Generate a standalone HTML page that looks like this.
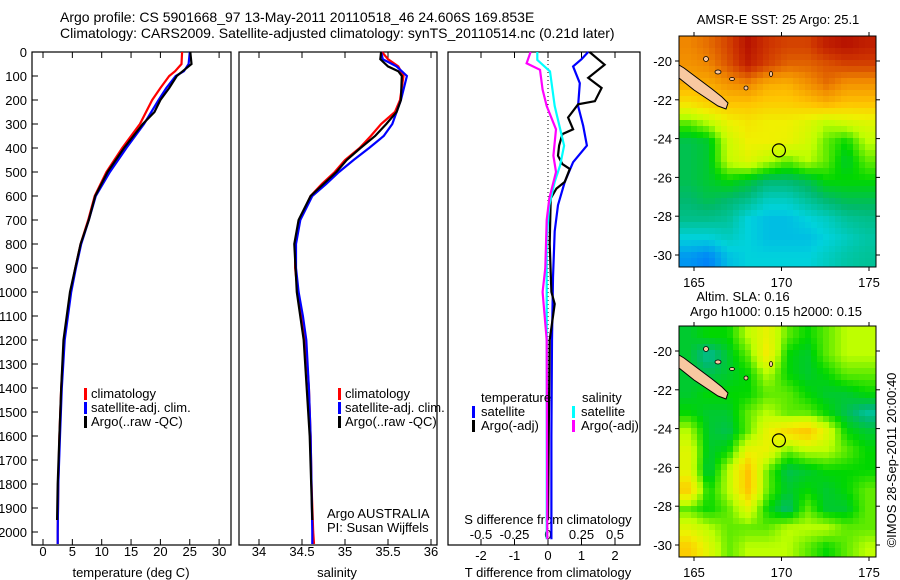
<!DOCTYPE html>
<html><head><meta charset="utf-8">
<style>
html,body{margin:0;padding:0;background:#fff;}
svg{display:block;font-family:"Liberation Sans",sans-serif;}
text{font-size:13px;fill:#000;}
</style></head>
<body>
<svg id="fig" width="900" height="580" viewBox="0 0 900 580" xmlns="http://www.w3.org/2000/svg">
<text x="60" y="22" style="font-size:14px">Argo profile: CS 5901668_97 13-May-2011 20110518_46 24.606S 169.853E</text>
<text x="60" y="38" style="font-size:14px">Climatology: CARS2009. Satellite-adjusted climatology: synTS_20110514.nc (0.21d later)</text>
</svg>
<script>
// ---------- data ----------
const tDepthClim=[0,50,80,100,150,200,300,400,500,600,700,800,900,1000,1200,1400,1600,1800,2000,2050];
const tempClim=[23.7,23.6,22.5,21.5,20.0,18.6,16.5,13.5,10.8,8.8,7.7,6.4,5.5,4.7,3.6,3.1,2.8,2.6,2.5,2.5];
const tempSat=[25.0,24.8,24.0,22.6,21.0,19.7,17.2,14.2,11.4,9.0,7.8,6.5,5.6,4.8,3.7,3.2,2.9,2.6,2.5,2.5];
const tDepthArgo=[0,50,80,100,150,200,250,300,400,500,600,700,800,1000,1200,1400,1600,1800,1950];
const tempArgo=[25.1,25.3,23.8,22.8,21.5,20.0,19.0,17.0,13.8,11.0,8.9,7.8,6.4,4.6,3.5,3.1,2.8,2.5,2.4];
const sDepthClim=[0,30,60,100,200,250,300,350,400,450,500,550,600,700,800,900,1000,1100,1200,1400,1600,1800,2000,2050];
const salClim=[35.43,35.5,35.62,35.68,35.64,35.58,35.42,35.3,35.17,35.0,34.88,34.73,34.6,34.47,34.42,34.42,34.45,34.5,34.54,34.58,34.6,34.61,34.63,34.64];
const salSat=[35.42,35.44,35.6,35.72,35.65,35.6,35.55,35.45,35.28,35.1,34.93,34.78,34.62,34.48,34.43,34.43,34.46,34.51,34.55,34.58,34.6,34.61,34.62,34.62];
const sDepthArgo=[0,30,60,80,100,200,250,300,350,400,450,500,600,700,800,1000,1200,1600,1950];
const salArgo=[35.42,35.41,35.5,35.62,35.66,35.65,35.6,35.48,35.35,35.18,35.02,34.9,34.6,34.46,34.41,34.44,34.52,34.59,34.62];
const dDepthTSat=[0,30,60,130,225,308,390,459,541,638,747,940,1200,1600,2030];
const tDiffSat=[1.2,1.0,0.75,0.95,0.9,1.05,1.16,0.75,0.5,0.3,0.2,0.15,0.12,0.1,0.1];
const dDepthTArgo=[0,53,108,150,205,218,273,322,342,390,432,467,487,541,569,610,800,1000,1050,1200,1600,1950];
const tDiffArgo=[1.24,1.69,1.2,1.6,1.4,0.9,0.6,0.75,0.43,0.33,0.3,0.43,0.65,0.5,0.25,0.08,0.05,0.1,0.2,0.05,0.02,0.0];
const dDepthSSat=[0,33,81,225,390,473,541,638,775,940,1400,2030];
const sDiffSat=[-0.08,-0.08,0.015,0.05,0.12,0.09,0.05,0.01,-0.01,-0.01,-0.01,-0.01];
const dDepthSArgo=[0,47,74,157,225,322,432,500,610,700,900,1000,1200,2030];
const sDiffArgo=[-0.13,-0.16,-0.06,-0.04,-0.01,0.06,0.04,0.06,0.01,-0.01,-0.02,-0.04,-0.01,-0.005];
const depthTicks=[0,100,200,300,400,500,600,700,800,900,1000,1100,1200,1300,1400,1500,1600,1700,1800,1900,2000];
const tempTicks=[0,5,10,15,20,25,30];
const salTicks=[34,34.5,35,35.5,36];
const salTickLabels=["34","34.5","35","35.5","36"];
const tdTicks=[-2,-1,0,1,2];
const sdTicks=[-0.5,-0.25,0,0.25,0.5];
const sdTickLabels=["-0.5","-0.25","0","0.25","0.5"];
const sstGrid=[
[0.82,0.85,0.9,0.97,0.92,0.9,0.9,0.95,0.97,0.95],
[0.8,0.82,0.88,0.95,0.9,0.86,0.86,0.88,0.9,0.9],
[0.76,0.76,0.8,0.82,0.76,0.75,0.8,0.85,0.8,0.8],
[0.66,0.7,0.72,0.72,0.7,0.7,0.72,0.75,0.72,0.72],
[0.5,0.55,0.62,0.65,0.63,0.63,0.6,0.55,0.58,0.6],
[0.4,0.42,0.57,0.63,0.63,0.62,0.58,0.5,0.45,0.55],
[0.4,0.42,0.56,0.6,0.55,0.5,0.55,0.5,0.42,0.5],
[0.4,0.42,0.45,0.42,0.38,0.38,0.4,0.45,0.45,0.45],
[0.38,0.4,0.38,0.36,0.32,0.32,0.35,0.38,0.4,0.4],
[0.36,0.36,0.35,0.3,0.28,0.28,0.3,0.32,0.35,0.36],
[0.3,0.3,0.32,0.3,0.28,0.28,0.28,0.3,0.32,0.34],
[0.24,0.22,0.28,0.3,0.3,0.3,0.3,0.32,0.34,0.35]];
const slaGrid=[
[0.42,0.45,0.45,0.55,0.62,0.5,0.45,0.5,0.55,0.55],
[0.42,0.35,0.42,0.5,0.65,0.45,0.42,0.5,0.55,0.55],
[0.42,0.4,0.42,0.45,0.55,0.45,0.42,0.45,0.5,0.5],
[0.42,0.45,0.45,0.45,0.5,0.5,0.45,0.42,0.42,0.45],
[0.45,0.42,0.42,0.5,0.55,0.5,0.5,0.45,0.4,0.35],
[0.55,0.42,0.4,0.5,0.62,0.68,0.72,0.6,0.45,0.42],
[0.6,0.42,0.45,0.62,0.62,0.5,0.55,0.55,0.5,0.45],
[0.6,0.4,0.55,0.72,0.5,0.4,0.42,0.45,0.45,0.45],
[0.7,0.45,0.55,0.72,0.5,0.42,0.45,0.42,0.45,0.5],
[0.5,0.45,0.5,0.6,0.45,0.38,0.5,0.42,0.42,0.5],
[0.6,0.55,0.5,0.5,0.5,0.55,0.55,0.55,0.5,0.5],
[0.7,0.6,0.5,0.55,0.55,0.55,0.5,0.45,0.5,0.55]];
const lonTicks=[165,170,175];
const latTicks=[-20,-22,-24,-26,-28,-30];
const argoPos=[169.853,-24.606];

// ---------- helpers ----------
const NS="http://www.w3.org/2000/svg";
const svg=document.getElementById('fig');
function el(tag,attrs,parent){const e=document.createElementNS(NS,tag);for(const k in attrs)e.setAttribute(k,attrs[k]);(parent||svg).appendChild(e);return e;}
function txt(x,y,s,anchor,size){const t=el('text',{x:x,y:y,'text-anchor':anchor||'start'});if(size)t.style.fontSize=size+'px';t.textContent=s;return t;}
const Y0=52,YB=545;
const yD=d=>Y0+d*0.24;
const xT=v=>43+v*5.87;
const xS=v=>259+(v-34)*86;
const xTD=v=>548+v*33.5;
const xSD=v=>548+v*134;
function step(xs,ds,xf,col,name){
  let p='';for(let i=0;i<xs.length;i++){p+=(i?'L':'M')+xf(xs[i]).toFixed(1)+' '+yD(ds[i]).toFixed(1);}
  const e=el('path',{d:p,fill:'none',stroke:col,'stroke-width':2.2});
  
  
}
function frame(x0,x1,name){
  const r=el('rect',{x:x0,y:Y0,width:x1-x0,height:YB-Y0,fill:'none',stroke:'#000','stroke-width':1.2});
  
  
}
function xTicks(vals,labels,xf,yl,top){
  vals.forEach((v,i)=>{const x=xf(v);el('line',{x1:x,x2:x,y1:YB,y2:YB-6,stroke:'#000'});
    if(top)el('line',{x1:x,x2:x,y1:Y0,y2:Y0+6,stroke:'#000'});
    const t=txt(x,yl,labels[i],'middle');
    
    });
}

// ---------- panel 1 ----------
frame(32,231,'temperature-plot-frame');
depthTicks.forEach(d=>{const y=yD(d);el('line',{x1:32,x2:38,y1:y,y2:y,stroke:'#000'});
  const t=txt(27,y+5,String(d),'end');
  
  });
xTicks(tempTicks,tempTicks.map(String),xT,556,true);
const xl1=txt(131,577,'temperature (deg C)','middle');


step(tempClim,tDepthClim,xT,'#ff0000','temp-climatology-line');
step(tempSat,tDepthClim,xT,'#0000ff','temp-satellite-line');
step(tempArgo,tDepthArgo,xT,'#000000','temp-argo-line');

// ---------- panel 2 ----------
frame(239,437,'salinity-plot-frame');
salTicks.forEach(v=>{const x=xS(v);el('line',{x1:x,x2:x,y1:Y0,y2:Y0+6,stroke:'#000'});});
xTicks(salTicks,salTickLabels,xS,556,false);
const xl2=txt(337,577,'salinity','middle');


step(salClim,sDepthClim,xS,'#ff0000','sal-climatology-line');
step(salSat,sDepthClim,xS,'#0000ff','sal-satellite-line');
step(salArgo,sDepthArgo,xS,'#000000','sal-argo-line');

[[84,'panel1'],[338,'panel2']].forEach(([lx,p])=>{
  [['#ff0000','climatology'],['#0000ff','satellite-adj. clim.'],['#000000','Argo(..raw -QC)']].forEach(([c,s],i)=>{
    const y=398+i*14;
    const b=el('rect',{x:lx,y:y-10,width:3,height:12,fill:c});
    
    
    const t=txt(lx+7,y,s);
    
    
  });
});
const ann1=txt(327,518,'Argo AUSTRALIA');


const ann2=txt(327,532,'PI: Susan Wijffels');



// ---------- panel 3 ----------
frame(448,640,'difference-plot-frame');
el('line',{x1:xTD(0),x2:xTD(0),y1:Y0,y2:YB,stroke:'#000','stroke-dasharray':'1,3'});
tdTicks.forEach(v=>{const x=xTD(v);el('line',{x1:x,x2:x,y1:Y0,y2:Y0+6,stroke:'#000'});});
xTicks(tdTicks,tdTicks.map(String),xTD,560,false);
sdTicks.forEach((v,i)=>{const t=txt(xSD(v),539,sdTickLabels[i],'middle');
  
  });
const sdt=txt(548,524,'S difference from climatology','middle');


const tdt=txt(548,577,'T difference from climatology','middle');


step(tDiffSat,dDepthTSat,xTD,'#0000ff','t-diff-satellite-line');
step(tDiffArgo,dDepthTArgo,xTD,'#000000','t-diff-argo-line');
step(sDiffSat,dDepthSSat,xSD,'#00ffff','s-diff-satellite-line');
step(sDiffArgo,dDepthSArgo,xSD,'#ff00ff','s-diff-argo-line');
const lg1=txt(481,402,'temperature');
const lg2=txt(582,402,'salinity');
[[472,'#0000ff','satellite',416],[472,'#000000','Argo(-adj)',430],[572,'#00ffff','satellite',416],[572,'#ff00ff','Argo(-adj)',430]].forEach(([lx,c,s,y])=>{
  const b=el('rect',{x:lx,y:y-10,width:3,height:12,fill:c});
  
  
  const t=txt(lx+9,y,s);
  
  
});

// ---------- maps ----------
const stops=[[0.2,[0,110,255]],[0.3,[0,210,220]],[0.38,[0,185,110]],[0.45,[0,215,0]],[0.55,[190,255,0]],[0.63,[240,240,0]],[0.72,[255,195,0]],[0.82,[240,135,0]],[0.92,[205,50,0]],[1.0,[170,0,0]]];
function cmap(v){if(v<=stops[0][0])return stops[0][1];for(let i=1;i<stops.length;i++){if(v<=stops[i][0]){const a=stops[i-1],b=stops[i];const f=(v-a[0])/(b[0]-a[0]);return a[1].map((c,k)=>Math.round(c+(b[1][k]-c)*f));}}return stops[stops.length-1][1];}
function drawMap(grid,top,name){
  const mx0=679,mx1=876,my0=top,my1=top+231;
  const lonX=lo=>694+(lo-165)*17.5;
  const latY=la=>top+25+(-20-la)*19.4;
  const g=el('g',{});
  
  
  const R=grid.length,C=grid[0].length,cs=6;
  for(let y=my0;y<my1;y+=cs){for(let x=mx0;x<mx1;x+=cs){
    const fx=Math.min(C-1.001,Math.max(0,(x+cs/2-mx0)/(mx1-mx0)*C-0.5));
    const fy=Math.min(R-1.001,Math.max(0,(y+cs/2-my0)/(my1-my0)*R-0.5));
    const i=Math.floor(fy),j=Math.floor(fx),a=fy-i,b=fx-j;
    const v=grid[i][j]*(1-a)*(1-b)+grid[i][j+1]*(1-a)*b+grid[i+1][j]*a*(1-b)+grid[i+1][j+1]*a*b;
    const c=cmap(v);
    el('rect',{x:x,y:y,width:Math.min(cs,mx1-x),height:Math.min(cs,my1-y),fill:`rgb(${c[0]},${c[1]},${c[2]})`},g);
  }}
  const isl=[[679,65],[684,68],[700,80],[712,89],[722,97],[728,103],[726,109],[718,106],[706,98],[694,90],[684,82],[679,78]];
  const ip=el('polygon',{points:isl.map(p=>p[0]+','+(p[1]-36+top)).join(' '),fill:'#f8c8a0',stroke:'#000','stroke-width':1});
  
  
  [[706,59,2.5,2.5],[718,72,3,2],[732,79,2.5,1.5],[746,88,2,2],[771,74,1.5,2.5]].forEach(([x,y,rx,ry])=>{
    const e=el('ellipse',{cx:x,cy:y-36+top,rx:rx,ry:ry,fill:'#f8c8a0',stroke:'#000','stroke-width':0.8});
    
    });
  el('rect',{x:mx0,y:my0,width:mx1-mx0,height:my1-my0,fill:'none',stroke:'#000'});
  const c=el('circle',{cx:lonX(argoPos[0]),cy:latY(argoPos[1]),r:6.5,fill:'none',stroke:'#000','stroke-width':1.2});
  
  
  lonTicks.forEach(lo=>{const x=lonX(lo);el('line',{x1:x,x2:x,y1:my0,y2:my0-4,stroke:'#000'});el('line',{x1:x,x2:x,y1:my1,y2:my1+4,stroke:'#000'});
    const t=txt(x,my1+20,String(lo),'middle');
    
    });
  latTicks.forEach(la=>{const y=latY(la);el('line',{x1:mx0,x2:mx0-4,y1:y,y2:y,stroke:'#000'});el('line',{x1:mx1,x2:mx1+4,y1:y,y2:y,stroke:'#000'});
    const t=txt(672,y+5,String(la),'end');
    
    });
}
drawMap(sstGrid,36,'sst-map');
drawMap(slaGrid,326,'sla-map');
const mt1=txt(778,24,'AMSR-E SST: 25 Argo: 25.1','middle');


const mt2=txt(743,301,'Altim. SLA: 0.16','middle');


const mt3=txt(776,316,'Argo h1000: 0.15 h2000: 0.15','middle');


const cr=txt(0,0,'©IMOS 28-Sep-2011 20:00:40','middle');
cr.setAttribute('transform','translate(896,460) rotate(-90)');


</script>
</body></html>
